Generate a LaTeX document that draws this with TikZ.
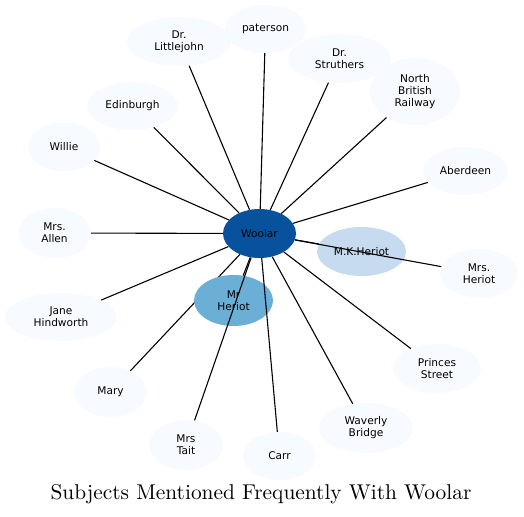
\documentclass[tikz,border=0pt]{standalone}
\usepackage{fontspec}
\newfontfamily\nodefont{DejaVu Sans}
\newfontfamily\titlefont{lmroman10-regular.otf}
\usetikzlibrary{shapes.geometric}
\definecolor{woolarc}{HTML}{08519C}
\definecolor{mrhc}{HTML}{6BAED6}
\definecolor{mkhc}{HTML}{C6DBEF}
\definecolor{outerc}{HTML}{F7FBFF}
\tikzset{
  nd/.style={ellipse, inner sep=0pt, align=center, font=\nodefont\fontsize{10.6}{12}\selectfont, text=black},
  ol/.style={nd, fill=outerc},
  sz/.style 2 args={minimum width=#1pt, minimum height=#2pt},
  edge/.style={draw=black, line width=1.1pt}
}
\begin{document}
\begin{tikzpicture}[x=1pt,y=-1pt]
\useasboundingbox (0,0) rectangle (524,516);
% outer nodes
\node[ol, sz={104}{49}] (littlejohn) at (179,41.5) {Dr.\\Littlejohn};
\node[ol, sz={81}{48}] (paterson) at (265.5,29) {paterson};
\node[ol, sz={103}{49}] (struthers) at (339.5,58.5) {Dr.\\Struthers};
\node[ol, sz={90}{67}] (nbr) at (415,91.5) {North\\British\\Railway};
\node[ol, sz={91}{48}] (edinburgh) at (132.5,106) {Edinburgh};
\node[ol, sz={72}{49}] (willie) at (64,147) {Willie};
\node[ol, sz={85}{48}] (aberdeen) at (465.5,171) {Aberdeen};
\node[ol, sz={73}{50}] (allen) at (54.5,233) {Mrs.\\Allen};
\node[ol, sz={78}{49}] (mrsheriot) at (479,273.5) {Mrs.\\Heriot};
\node[ol, sz={112}{48}] (jane) at (61,317) {Jane\\Hindworth};
\node[ol, sz={88}{49}] (princes) at (437,368.5) {Princes\\Street};
\node[ol, sz={73}{50}] (mary) at (110.5,392) {Mary};
\node[ol, sz={74}{50}] (tait) at (186,445) {Mrs\\Tait};
\node[ol, sz={73}{48}] (carr) at (279.5,456) {Carr};
\node[ol, sz={94}{50}] (waverly) at (366,428) {Waverly\\Bridge};
% centre node position
\coordinate (wc) at (259.5,233.5);
\path (wc) node[nd, sz={73}{49}] (woolarshape) {};
% edge hidden under Mr Heriot
\draw[edge] (woolarshape) -- (mary);
% coloured neighbour nodes
\node[nd, fill=mrhc, sz={79}{51}] (mrheriot) at (233.5,300.5) {Mr\\Heriot};
\node[nd, fill=mkhc, sz={89}{49}] (mkheriot) at (361.5,251.5) {M.K.Heriot};
% edges
\draw[edge] (woolarshape) -- (mrheriot);
\draw[edge] (woolarshape) -- (mkheriot);
\foreach \t in {littlejohn,paterson,struthers,nbr,edinburgh,willie,aberdeen,allen,mrsheriot,jane,princes,tait,carr,waverly}
  \draw[edge] (woolarshape) -- (\t);
% centre node on top
\node[nd, fill=woolarc, sz={73}{49}] (woolar) at (wc) {Woolar};
% title
\node[font=\titlefont\fontsize{21.4}{25}\selectfont, text=black] (title) at (261,494) {Subjects Mentioned Frequently With Woolar};
\end{tikzpicture}
\end{document}
